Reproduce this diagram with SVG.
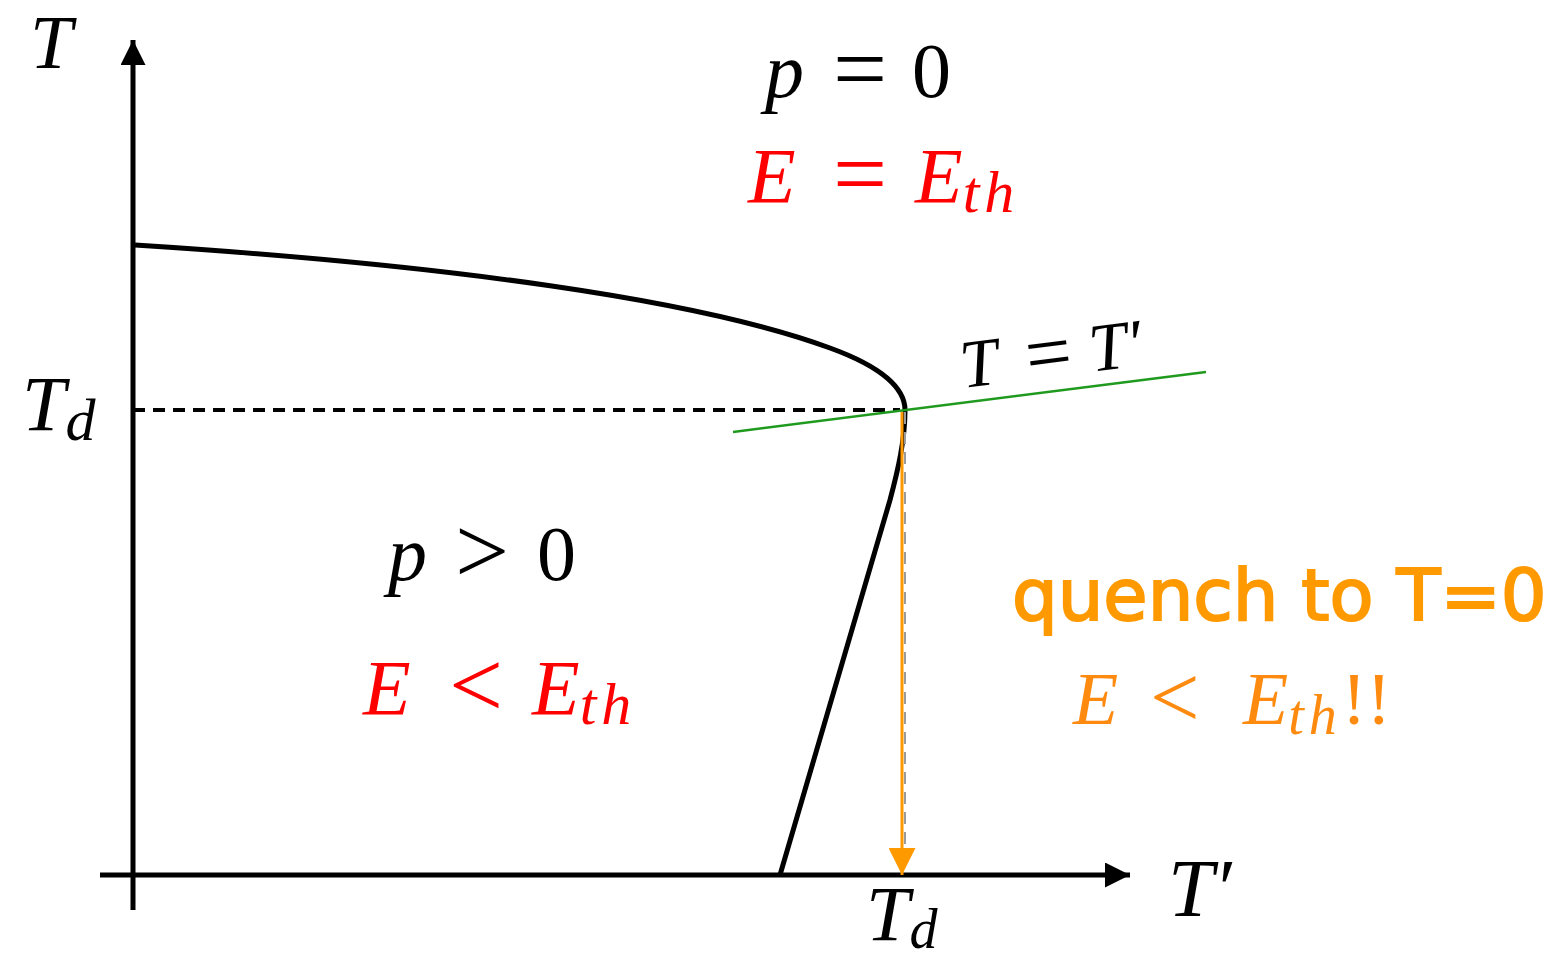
<svg xmlns="http://www.w3.org/2000/svg" width="1558" height="957" viewBox="0 0 1558 957">
<style>
.m{font-family:"Liberation Serif","DejaVu Serif",serif;font-style:italic;font-size:78px}
.r{font-family:"Liberation Serif","DejaVu Serif",serif;font-style:normal;font-size:78px}
.rel{font-family:"Liberation Serif","DejaVu Serif",serif;font-style:normal;font-size:96px}
.sub{font-size:60px;letter-spacing:5px}
.ax{stroke:#000;stroke-width:5;fill:none}
</style>
<defs>
<marker id="ah" viewBox="0 0 10 10" refX="10" refY="5" markerWidth="5" markerHeight="5" markerUnits="strokeWidth" orient="auto"><path d="M0,0 L10,5 L0,10 z" fill="#000"/></marker>
<marker id="ao" viewBox="0 0 10 10" refX="10" refY="5" markerWidth="9" markerHeight="9" markerUnits="strokeWidth" orient="auto"><path d="M0,0 L10,5 L0,10 z" fill="#ff9900"/></marker>
</defs>
<rect width="1558" height="957" fill="#fff"/>
<g id="connectors">
<line class="ax" x1="133" y1="910" x2="133" y2="40" marker-end="url(#ah)"/>
<line class="ax" x1="100" y1="875" x2="1130" y2="875" marker-end="url(#ah)"/>
<line x1="133" y1="410" x2="900" y2="410" stroke="#000" stroke-width="4" stroke-dasharray="12,8"/>
<path d="M135,245 C450,265 700,300 830,348 C885,368 905,390 905,410 C905,440 898,470 890,500 L780,875" fill="none" stroke="#000" stroke-width="5"/>
<line x1="733" y1="432" x2="1206" y2="372" stroke="#1f9a1f" stroke-width="2.5"/>
<line x1="905" y1="412" x2="905" y2="870" stroke="#9a9a9a" stroke-width="2" stroke-dasharray="12,8"/>
<line x1="902" y1="412" x2="902" y2="875" stroke="#ff9900" stroke-width="3" marker-end="url(#ao)"/>
</g>
<g id="axis-T"><text class="m" x="30" y="68" style="font-size:76px">T</text></g>
<g id="axis-Tp"><text class="m" x="1168" y="916" style="font-size:82px">T′</text></g>
<g id="Td-left"><text class="m" x="22" y="430">T<tspan class="sub" dy="10">d</tspan></text></g>
<g id="Td-bottom"><text class="m" x="866" y="940">T<tspan class="sub" dy="8" style="font-size:56px">d</tspan></text></g>
<g id="p0"><text class="m" x="765" y="97">p<tspan class="rel" x="833" dy="4">=</tspan><tspan class="r" x="912" dy="-4">0</tspan></text></g>
<g id="EEth"><text class="m" x="748" y="202" fill="#ff0000">E<tspan class="rel" x="833" dy="4">=</tspan><tspan x="915" dy="-4">E</tspan><tspan class="sub" dy="10">th</tspan></text></g>
<g id="TTp"><text class="m" style="font-size:68px" transform="translate(963,388) rotate(-7.2)">T<tspan class="rel" style="font-size:82px" x="66" dy="3">=</tspan><tspan x="130" dy="-3">T′</tspan></text></g>
<g id="pgt0"><text class="m" x="388" y="580">p<tspan class="rel" x="455" dy="3">&gt;</tspan><tspan class="r" x="537" dy="-3">0</tspan></text></g>
<g id="ElEth"><text class="m" x="363" y="714" fill="#ff0000">E<tspan class="rel" x="449" dy="3">&lt;</tspan><tspan x="532" dy="-3">E</tspan><tspan class="sub" dy="10">th</tspan></text></g>
<g id="quench"><text x="1012" y="620" fill="#ff9900" stroke="#ff9900" stroke-width="2" style="font-family:'DejaVu Sans','Liberation Sans',sans-serif;font-size:72px">quench to T=0</text></g>
<g id="ElEth2"><text class="m" x="1073" y="724" fill="#ff8a10" style="font-size:74px">E<tspan class="rel" style="font-size:88px" x="1150" dy="3">&lt;</tspan><tspan x="1243" dy="-3">E</tspan><tspan class="sub" style="font-size:56px" dy="10">th</tspan><tspan class="r" style="font-size:74px" dy="-10">!!</tspan></text></g>
</svg>
